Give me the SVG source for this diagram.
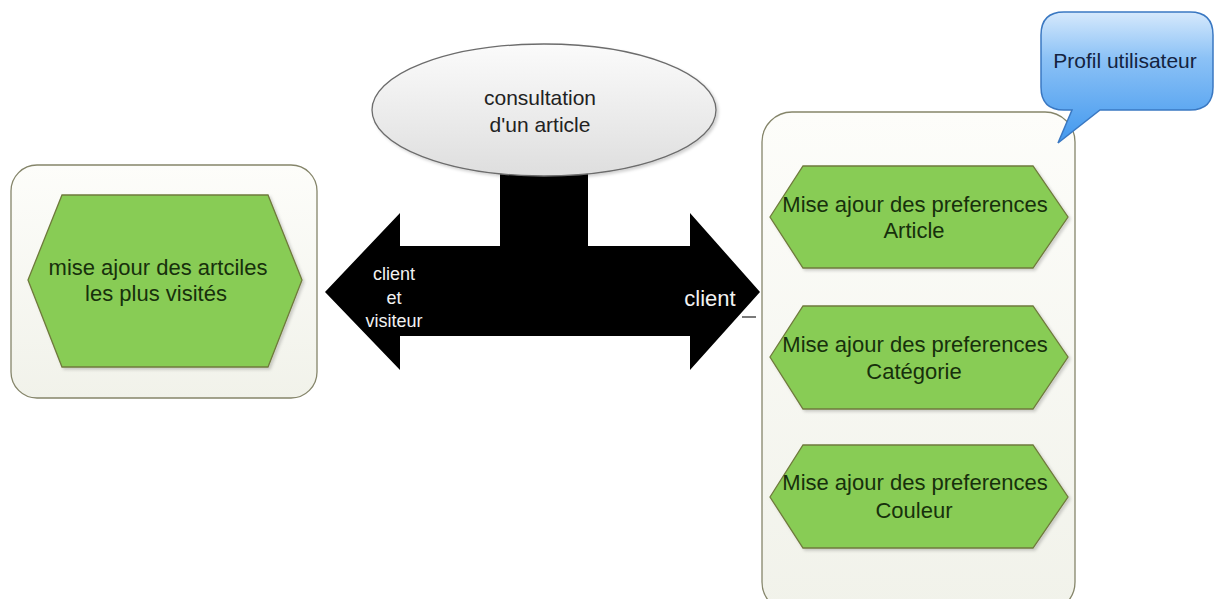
<svg xmlns="http://www.w3.org/2000/svg" width="1222" height="599" viewBox="0 0 1222 599">
  <defs>
    <linearGradient id="panelFill" x1="0" y1="0" x2="0" y2="1">
      <stop offset="0" stop-color="#fdfdfa"/>
      <stop offset="1" stop-color="#f1f2ea"/>
    </linearGradient>
    <linearGradient id="ovalFill" x1="0" y1="0" x2="0" y2="1">
      <stop offset="0" stop-color="#fbfbfb"/>
      <stop offset="1" stop-color="#dedede"/>
    </linearGradient>
    <linearGradient id="bubbleFill" x1="0" y1="0" x2="0" y2="1">
      <stop offset="0" stop-color="#d6e9fc"/>
      <stop offset="0.35" stop-color="#8cc2f6"/>
      <stop offset="1" stop-color="#4298ee"/>
    </linearGradient>
    <filter id="soft" x="-5%" y="-5%" width="115%" height="115%">
      <feDropShadow dx="2" dy="2" stdDeviation="1.5" flood-color="#000" flood-opacity="0.18"/>
    </filter>
  </defs>
  <style>
    .panel { fill: url(#panelFill); stroke: #85856a; stroke-width: 1.3; }
    .hex { fill: #88cc55; stroke: #6f7a3c; stroke-width: 1.3; filter: url(#soft); }
    .hexText { font-family: "Liberation Sans", Arial, sans-serif; font-size: 22px; fill: #17300c; text-anchor: middle; }
    .arrowText { font-family: "Liberation Sans", Arial, sans-serif; fill: #f2f2f2; text-anchor: middle; }
    .ovalText { font-family: "Liberation Sans", Arial, sans-serif; font-size: 21px; fill: #222; text-anchor: middle; }
    .bubbleText { font-family: "Liberation Sans", Arial, sans-serif; font-size: 21px; fill: #14233f; text-anchor: middle; }
  </style>

  <!-- connectors: T-shaped double arrow -->
  <g id="connectors">
    <polygon points="325,292 400,213 400,246 500,246 500,165 588,165 588,246 690,246 690,213 760,292 690,370 690,336 400,336 400,370" fill="#000"/>
    <line x1="742" y1="317" x2="756" y2="317" stroke="#222" stroke-width="1.2"/>
    <text class="arrowText" font-size="18" x="394" y="280">client</text>
    <text class="arrowText" font-size="18" x="394" y="304">et</text>
    <text class="arrowText" font-size="18" x="394" y="327">visiteur</text>
    <text class="arrowText" font-size="22" x="710" y="306">client</text>
  </g>

  <g id="consultation">
    <ellipse cx="544" cy="110" rx="172" ry="66" fill="url(#ovalFill)" stroke="#6c6c6c" stroke-width="1.3" filter="url(#soft)"/>
    <text class="ovalText" x="540" y="105">consultation</text>
    <text class="ovalText" x="540" y="132">d'un article</text>
  </g>

  <g id="visites">
    <rect class="panel" x="11" y="165" width="306" height="233" rx="26" ry="26"/>
    <polygon class="hex" points="28,280 62,195 268,195 302,280 268,367 62,367"/>
    <text class="hexText" x="158" y="275">mise ajour des artciles</text>
    <text class="hexText" x="156" y="301">les plus visités</text>
  </g>

  <g id="profil">
    <rect class="panel" x="762" y="112" width="313" height="500" rx="30" ry="30"/>
  </g>

  <g id="bulle">
    <path d="M1064,12 H1190 Q1213,12 1213,35 V87 Q1213,110 1190,110 H1100 L1058,143 L1072,110 H1064 Q1041,110 1041,87 V35 Q1041,12 1064,12 Z" fill="url(#bubbleFill)" stroke="#3a78c2" stroke-width="1.5"/>
    <text class="bubbleText" x="1125" y="68">Profil utilisateur</text>
  </g>

  <g id="pref-article">
    <polygon class="hex" points="770,217 803,166 1033,166 1068,217 1033,268 803,268"/>
    <text class="hexText" x="915" y="212">Mise ajour des preferences</text>
    <text class="hexText" x="914" y="238">Article</text>
  </g>

  <g id="pref-categorie">
    <polygon class="hex" points="770,357 803,306 1033,306 1068,357 1033,409 803,409"/>
    <text class="hexText" x="915" y="352">Mise ajour des preferences</text>
    <text class="hexText" x="914" y="379">Catégorie</text>
  </g>

  <g id="pref-couleur">
    <polygon class="hex" points="770,497 803,445 1033,445 1068,497 1033,548 803,548"/>
    <text class="hexText" x="915" y="490">Mise ajour des preferences</text>
    <text class="hexText" x="914" y="518">Couleur</text>
  </g>
</svg>
